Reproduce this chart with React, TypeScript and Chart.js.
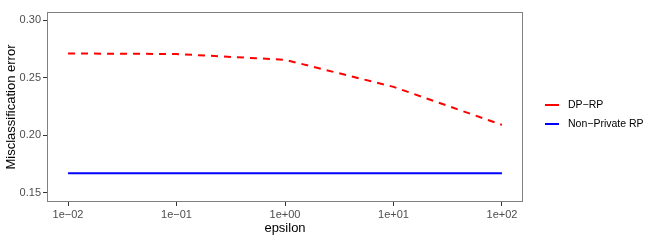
import React, { useEffect, useRef } from "react";
import { Chart, registerables } from "chart.js";

Chart.register(...registerables);

const epsilons = [0.01, 0.1, 1, 10, 100];
const dpRp = [0.271, 0.2705, 0.2655, 0.242, 0.209];
const nonPrivateRp = [0.167, 0.167, 0.167, 0.167, 0.167];
const xTickValues = [0.01, 0.1, 1, 10, 100];
const xTickLabels = ["1e\u221202", "1e\u221201", "1e+00", "1e+01", "1e+02"];
const yTickValues = [0.15, 0.2, 0.25, 0.3];
const seriesNames = ["DP\u2212RP", "Non\u2212Private RP"];
const seriesColors = ["#FF0000", "#0000FF"];

const FONT = "'Liberation Sans', Arial, sans-serif";

export default function App() {
  const ref = useRef<HTMLCanvasElement | null>(null);

  useEffect(() => {
    if (!ref.current) return;
    const panelPlugin = {
      id: "panel",
      afterDraw(chart: any) {
        const { ctx, chartArea } = chart;
        ctx.save();
        ctx.strokeStyle = "#808080";
        ctx.lineWidth = 1;
        ctx.strokeRect(
          Math.round(chartArea.left) + 0.5,
          Math.round(chartArea.top) + 0.5,
          Math.round(chartArea.right - chartArea.left) - 1,
          Math.round(chartArea.bottom - chartArea.top) - 1
        );
        // legend
        const ys = [105, 124];
        ctx.font = `10.5px ${FONT}`;
        ctx.textBaseline = "middle";
        ctx.textAlign = "left";
        seriesNames.forEach((name, i) => {
          ctx.strokeStyle = seriesColors[i];
          ctx.lineWidth = 2;
          ctx.setLineDash([]);
          ctx.beginPath();
          ctx.moveTo(545, ys[i]);
          ctx.lineTo(559, ys[i]);
          ctx.stroke();
          ctx.fillStyle = "#000000";
          ctx.fillText(name, 568, ys[i] + 0.5);
        });
        ctx.restore();
      },
    };

    const chart = new Chart(ref.current, {
      type: "line",
      data: {
        datasets: [
          {
            label: seriesNames[0],
            data: epsilons.map((x, i) => ({ x, y: dpRp[i] })),
            borderColor: seriesColors[0],
            borderWidth: 2,
            borderDash: [7, 6],
            pointRadius: 0,
            tension: 0,
            fill: false,
          },
          {
            label: seriesNames[1],
            data: epsilons.map((x, i) => ({ x, y: nonPrivateRp[i] })),
            borderColor: seriesColors[1],
            borderWidth: 2,
            pointRadius: 0,
            tension: 0,
            fill: false,
          },
        ],
      },
      options: {
        animation: false,
        responsive: false,
        maintainAspectRatio: false,
        layout: { padding: { left: 0, right: 131, top: 12, bottom: 0 } },
        plugins: {
          legend: { display: false },
          tooltip: { enabled: false },
        },
        scales: {
          x: {
            type: "logarithmic",
            min: Math.pow(10, -2.194),
            max: Math.pow(10, 2.194),
            afterBuildTicks(scale: any) {
              scale.ticks = xTickValues.map((v) => ({ value: v }));
            },
            afterFit(scale: any) {
              scale.height = 43;
            },
            ticks: {
              autoSkip: false,
              maxRotation: 0,
              padding: 2,
              color: "#4D4D4D",
              font: { family: FONT, size: 11 },
              callback(value: any) {
                const idx = xTickValues.findIndex((v) => Math.abs(v - Number(value)) < 1e-9 * Math.max(1, v));
                return idx >= 0 ? xTickLabels[idx] : "";
              },
            },
            grid: {
              drawOnChartArea: false,
              drawTicks: true,
              tickLength: 4,
              color: "#333333",
            },
            border: { display: false },
            title: {
              display: true,
              text: "epsilon",
              color: "#000000",
              font: { family: FONT, size: 13 },
              padding: { top: 1, bottom: 9 },
            },
          },
          y: {
            type: "linear",
            min: 0.142,
            max: 0.307,
            afterBuildTicks(scale: any) {
              scale.ticks = yTickValues.map((v) => ({ value: v }));
            },
            afterFit(scale: any) {
              scale.width = 47;
            },
            ticks: {
              padding: 2,
              color: "#4D4D4D",
              font: { family: FONT, size: 11 },
              callback(value: any) {
                return Number(value).toFixed(2);
              },
            },
            grid: {
              drawOnChartArea: false,
              drawTicks: true,
              tickLength: 4,
              color: "#333333",
            },
            border: { display: false },
            title: {
              display: true,
              text: "Misclassification error",
              color: "#000000",
              font: { family: FONT, size: 13 },
              padding: { top: 4, bottom: 2 },
            },
          },
        },
      },
      plugins: [panelPlugin],
    } as any);
    return () => chart.destroy();
  }, []);

  return (
    <div style={{ position: "absolute", left: 0, top: 0, width: 654, height: 245, background: "#fff" }}>
      <canvas ref={ref} width={654} height={245} style={{ display: "block", width: 654, height: 245 }} />
    </div>
  );
}
